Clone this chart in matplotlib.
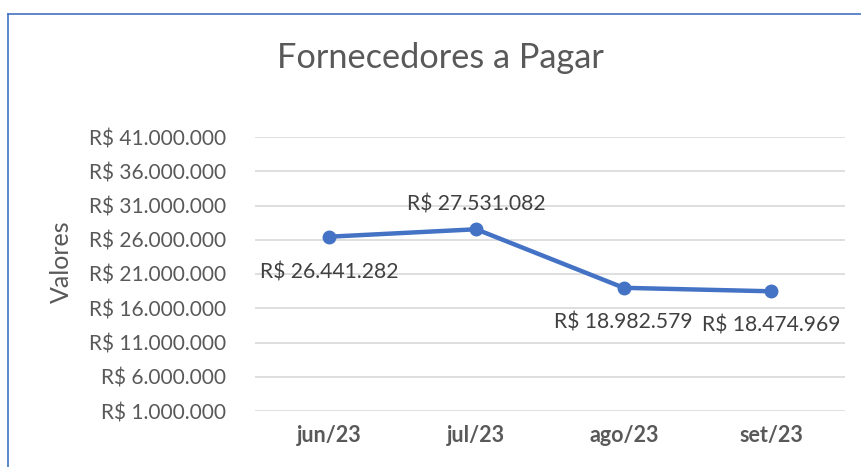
import matplotlib
matplotlib.use("Agg")
import matplotlib.pyplot as plt
from matplotlib.lines import Line2D

categories = ["jun/23", "jul/23", "ago/23", "set/23"]
values = [26441282, 27531082, 18982579, 18474969]
label_texts = ["R$ 26.441.282", "R$ 27.531.082", "R$ 18.982.579", "R$ 18.474.969"]
ytick_values = [1000000, 6000000, 11000000, 16000000, 21000000, 26000000, 31000000, 36000000, 41000000]

def fmt(v):
    return "R$ " + f"{v:,.0f}".replace(",", ".")

plt.rcParams['font.family'] = ['Lato', 'DejaVu Sans']
txt = "#595959"
blue = "#4472C4"

W, H = 861, 467
fig = plt.figure(figsize=(W/100, H/100), dpi=100)
ax = fig.add_axes([255/W, 1-411/H, 590/W, 274/H])

x = list(range(len(categories)))
ax.plot(x, values, color=blue, lw=3.2, marker='o', ms=9, solid_capstyle='round', zorder=3)
ax.set_xlim(-0.5, len(categories)-0.5)
ax.set_ylim(ytick_values[0], ytick_values[-1])
ax.set_yticks(ytick_values)
ax.set_yticklabels([fmt(v) for v in ytick_values], fontsize=15, color=txt)
ax.set_xticks(x)
ax.set_xticklabels(categories, fontsize=15.5, fontweight='bold', color=txt)
ax.tick_params(length=0, axis='y', pad=21)
ax.tick_params(length=0, axis='x', pad=10)
ax.grid(axis='y', color='#D9D9D9', lw=1.2)
ax.set_axisbelow(True)
for s in ax.spines.values():
    s.set_visible(False)

offsets = [(0, -36), (0, 25), (0, -35), (0, -34)]
for i, (v, t) in enumerate(zip(values, label_texts)):
    ax.annotate(t, (i, v), xytext=offsets[i], textcoords='offset pixels',
                ha='center', va='center', fontsize=15.2, color='#404040')

fig.text(61/W, 1-262/H, "Valores", rotation=90, ha='center', va='center', fontsize=18, color=txt)
fig.text(440/W, 1-58/H, "Fornecedores a Pagar", ha='center', va='center', fontsize=24.7, color=txt)

fig.add_artist(Line2D([7.5/W, 7.5/W], [0, 1-14/H], transform=fig.transFigure, color=blue, lw=1.2))
fig.add_artist(Line2D([7.5/W, 1], [1-14/H, 1-14/H], transform=fig.transFigure, color=blue, lw=1.2))

fig.savefig("out.png", dpi=100)
